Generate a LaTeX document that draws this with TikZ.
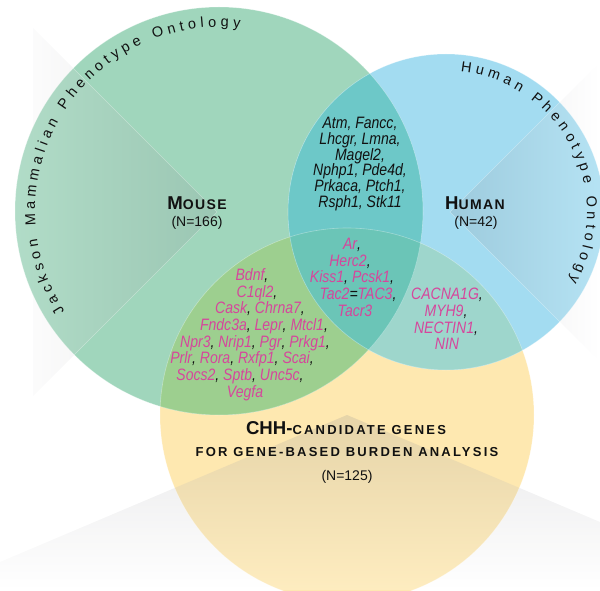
\documentclass[tikz,border=0pt]{standalone}
\usepackage{fontspec}
\setmainfont{Liberation Sans}
\newfontfamily\labfont{Liberation Sans}
\newfontfamily\labsp{Liberation Sans}[LetterSpace=17]
\newfontfamily\labspm{Liberation Sans}[LetterSpace=10]
\newfontfamily\genefont{Liberation Sans}[FakeStretch=0.85]
\newfontfamily\arcfont{Liberation Sans}
\usetikzlibrary{calc}
\definecolor{cMouse}{HTML}{A0D6BC}
\definecolor{cHuman}{HTML}{A3DCF1}
\definecolor{cYellow}{HTML}{FEE8B0}
\definecolor{cMH}{HTML}{6DC8C8}
\definecolor{cMY}{HTML}{9DCF8F}
\definecolor{cHY}{HTML}{9ED6CC}
\definecolor{cMHY}{HTML}{6BC5B7}
\definecolor{gmag}{HTML}{D6469C}
\definecolor{wgray}{HTML}{55555F}
\definecolor{ink}{HTML}{111111}
\newcommand\ck{\textcolor{ink}{,}}
\newcommand\eqk{\textcolor{ink}{=}}
% #1 centre, #2 baseline radius, #3 start angle, #4 tracking, #5 name prefix, #6 list char/width(em)
\newcommand\arctext[6]{%
  \xdef\arcang{#3}%
  \foreach \ch/\w [count=\ci] in {#6}{%
    \pgfmathsetmacro\dang{(\w*14.5+#4)/#2*180/pi}%
    \pgfmathsetmacro\midang{\arcang-\dang/2}%
    \node[arcchar, rotate=\midang-90] (#5\ci) at ($(#1)+(\midang:#2pt)$) {\ch};
    \pgfmathsetmacro\newang{\arcang-\dang}%
    \xdef\arcang{\newang}%
  }%
}
\tikzset{
  arcchar/.style={anchor=base, inner sep=0pt, font=\arcfont\fontsize{14.5}{15}\selectfont, text=ink},
  geneblk/.style={anchor=base, inner sep=0pt, font=\genefont\itshape\fontsize{16.5}{18}\selectfont, text=ink},
  genemag/.style={anchor=base, inner sep=0pt, font=\genefont\itshape\fontsize{16.5}{18}\selectfont, text=gmag},
  cnt/.style={anchor=base, inner sep=0pt, font=\labfont\fontsize{14}{16}\selectfont, text=ink},
  ttl/.style={anchor=base, inner sep=0pt, text=ink},
  wedge/.style={fill opacity=0.2},
  mwedge/.style={wedge, left color=white, middle color=wgray!35, right color=wgray!70},
  edgeline/.style={white, opacity=0.35, line width=0.6pt}
}
\begin{document}
\begin{tikzpicture}[x=1pt,y=1pt]
\useasboundingbox (0,0) rectangle (600,590);
\clip (0,0) rectangle (600,590);
\coordinate (mc) at (219,379);
\coordinate (hc) at (446,378);
\coordinate (yc) at (347,175);
% base circles
\fill[cYellow] (yc) circle[radius=187pt];
\fill[cMouse] (mc) circle[radius=204pt];
\fill[cHuman] (hc) circle[radius=158pt];
\begin{scope}
  \clip (mc) circle[radius=204pt];
  \fill[cMY] (yc) circle[radius=187pt];
\end{scope}
\begin{scope}
  \clip (hc) circle[radius=158pt];
  \fill[cHY] (yc) circle[radius=187pt];
\end{scope}
\begin{scope}
  \clip (mc) circle[radius=204pt];
  \fill[cMH] (hc) circle[radius=158pt];
\end{scope}
\begin{scope}
  \clip (mc) circle[radius=204pt];
  \clip (hc) circle[radius=158pt];
  \fill[cMHY] (yc) circle[radius=187pt];
\end{scope}
% light wedges
\begin{scope}
  \clip (33,0) rectangle (600,590);
  \shade[mwedge] (217,378) -- (0,595) -- (0,161) -- cycle;
\end{scope}
\begin{scope}
  \clip (0,0) rectangle (33,590);
  \clip (mc) circle[radius=204pt];
  \shade[mwedge] (217,378) -- (0,595) -- (0,161) -- cycle;
\end{scope}
\shade[wedge, left color=wgray!70, middle color=wgray!35, right color=white]
  (450,378) -- (600,528) -- (600,228) -- cycle;
\shade[wedge, top color=wgray!70, middle color=wgray!35, bottom color=white]
  (347,175) -- (0,28) -- (0,0) -- (600,0) -- (600,68) -- cycle;
\begin{scope}
  \clip (mc) circle[radius=204pt];
  \draw[edgeline] (0,595) -- (217,378) -- (0,161);
\end{scope}
\begin{scope}
  \clip (hc) circle[radius=158pt];
  \draw[edgeline] (600,528) -- (450,378) -- (600,228);
\end{scope}
% faint circle outlines
\draw[edgeline] (yc) circle[radius=187pt];
\draw[edgeline] (mc) circle[radius=204pt];
\draw[edgeline] (hc) circle[radius=158pt];
% curved titles
\arctext{mc}{184}{213.7}{4.25}{jm}{J/.5,a/.556,c/.5,k/.5,s/.5,o/.556,n/.556,~/.278,M/.833,a/.556,m/.833,m/.833,a/.556,l/.222,i/.222,a/.556,n/.556,~/.278,P/.667,h/.556,e/.556,n/.556,o/.556,t/.278,y/.5,p/.556,e/.556,~/.278,O/.778,n/.556,t/.278,o/.556,l/.222,o/.556,g/.556,y/.5}
\arctext{hc}{141}{84.9}{4.2}{hp}{H/.722,u/.556,m/.833,a/.556,n/.556,~/.278,P/.667,h/.556,e/.556,n/.556,o/.556,t/.278,y/.5,p/.556,e/.556,~/.278,O/.778,n/.556,t/.278,o/.556,l/.222,o/.556,g/.556,y/.5}
% set labels
\node[ttl] (mouse) at (197,380.7) {\labfont\bfseries\fontsize{18.6}{20}\selectfont M\labspm\bfseries\fontsize{14}{16}\selectfont OUSE};
\node[cnt] (mousen) at (197,363.5) {(N=166)};
\node[ttl] (human) at (475,380.7) {\labfont\bfseries\fontsize{18.6}{20}\selectfont H\labspm\bfseries\fontsize{14}{16}\selectfont UMAN};
\node[cnt] (humann) at (476,363.5) {(N=42)};
\node[ttl] (chh) at (346,156) {\labfont\bfseries\fontsize{18.6}{20}\selectfont CHH-\labsp\bfseries\fontsize{13}{15}\selectfont CANDIDATE GENES};
\node[ttl] (burden) at (347,134) {\labsp\bfseries\fontsize{13}{15}\selectfont FOR GENE-BASED BURDEN ANALYSIS};
\node[cnt] (chhn) at (347,110) {(N=125)};
% mouse & human
\node[geneblk] (mh1) at (360,461.5) {Atm, Fancc,};
\node[geneblk] (mh2) at (360,445.5) {Lhcgr, Lmna,};
\node[geneblk] (mh3) at (360,429.5) {Magel2,};
\node[geneblk] (mh4) at (360,414.5) {Nphp1, Pde4d,};
\node[geneblk] (mh5) at (360,398.5) {Prkaca, Ptch1,};
\node[geneblk] (mh6) at (360,382.5) {Rsph1, Stk11};
% mouse & CHH
\node[genemag] (my1) at (252,309.5) {Bdnf\ck};
\node[genemag] (my2) at (257,292.5) {C1ql2\ck};
\node[genemag] (my3) at (260,276.5) {Cask\ck{} Chrna7\ck};
\node[genemag] (my4) at (264,259.5) {Fndc3a\ck{} Lepr\ck{} Mtcl1\ck};
\node[genemag] (my5) at (255,242.5) {Npr3\ck{} Nrip1\ck{} Pgr\ck{} Prkg1\ck};
\node[genemag] (my6) at (242,226.5) {Prlr\ck{} Rora\ck{} Rxfp1\ck{} Scai\ck};
\node[genemag] (my7) at (240,209.5) {Socs2\ck{} Sptb\ck{} Unc5c\ck};
\node[genemag] (my8) at (245,192.5) {Vegfa};
% all three
\node[genemag] (t1) at (352,340.5) {Ar\ck};
\node[genemag] (t2) at (350,323.5) {Herc2\ck};
\node[genemag] (t3) at (352,307.5) {Kiss1\ck{} Pcsk1\ck};
\node[genemag] (t4) at (358,290.5) {Tac2\eqk TAC3\ck};
\node[genemag] (t5) at (355,273.5) {Tacr3};
% human & CHH
\node[genemag] (hy1) at (447,290.5) {CACNA1G\ck};
\node[genemag] (hy2) at (446,273.5) {MYH9\ck};
\node[genemag] (hy3) at (446,256.5) {NECTIN1\ck};
\node[genemag] (hy4) at (447,240.5) {NIN};
\end{tikzpicture}
\end{document}
